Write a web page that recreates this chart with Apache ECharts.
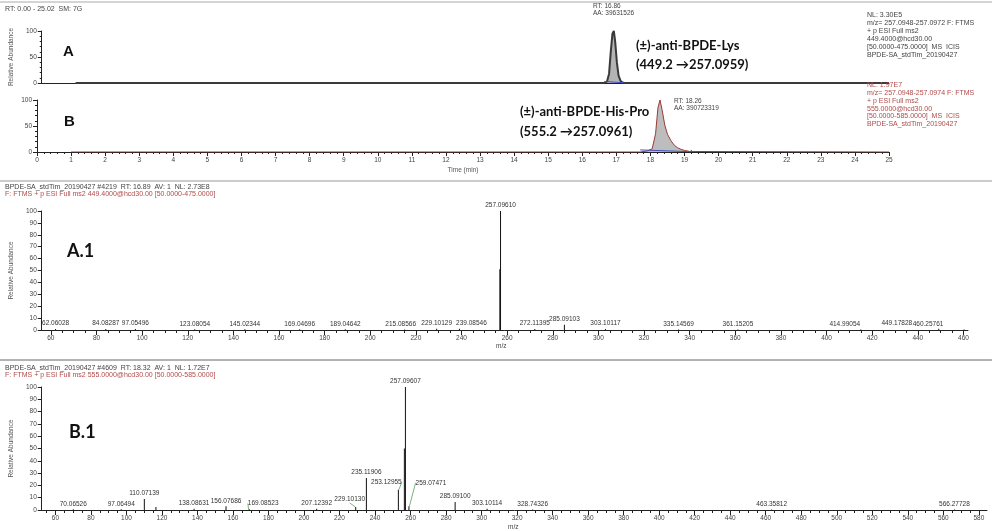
<!DOCTYPE html>
<html>
<head>
<meta charset="utf-8">
<script src="https://cdn.jsdelivr.net/npm/echarts@6/dist/echarts.min.js"></script>
<style>html,body{margin:0;padding:0;background:#fff}#main{width:992px;height:531px}</style>
</head>
<body>
<div id="main"></div>
<script>
// chromatogram A : (±)-anti-BPDE-Lys
var timeA = [1, 16.6, 16.68, 16.74, 16.79, 16.84, 16.88, 16.92, 16.97, 17.02, 17.08, 17.15, 25];
var abundA = [0, 0, 3, 18, 60, 95, 100, 80, 40, 14, 4, 0, 0];
// chromatogram B : (±)-anti-BPDE-His-Pro
var timeB = [1, 17.7, 17.9, 18.05, 18.15, 18.22, 18.28, 18.34, 18.42, 18.5, 18.6, 18.7, 18.8, 18.9, 19.0, 19.15, 25];
var abundB = [0, 0, 2, 6, 35, 85, 100, 82, 52, 34, 22, 13, 8, 5, 3, 1, 0];

// MS2 spectrum A.1 (449.4)
var mzA1 = [62.06028, 84.08287, 97.05496, 123.08054, 145.02344, 169.04696, 189.04642, 215.08566, 229.10129, 239.08546, 257.09610, 272.11395, 285.09103, 303.10117, 335.14569, 361.15205, 414.99054, 449.17828, 460.25761];
var intA1 = [0.8, 0.8, 0.8, 0.6, 0.6, 0.6, 0.6, 0.5, 1.0, 1.0, 100, 0.8, 4.5, 0.8, 0.5, 0.5, 0.5, 1.0, 0.5];
var profA1 = [[256.8, 51]];

// MS2 spectrum B.1 (555.0)
var mzB1 = [70.06526, 97.06494, 110.07139, 138.08631, 156.07686, 169.08523, 207.12392, 229.10130, 235.11906, 253.12955, 257.09607, 259.07471, 285.09100, 303.10114, 328.74326, 463.35812, 566.27728];
var intB1 = [0.6, 0.6, 9, 1.0, 3, 0.8, 1.0, 2.5, 26, 16.5, 100, 3, 6.5, 1.0, 0.5, 0.4, 0.4];
var extraB1 = [[256.5, 50], [116.6, 2.5]];

var timeTicks = [0, 25];
var mzTicksA1 = [60, 460];
var mzTicksB1 = [60, 580];

function range(a, b, step) {
  var out = [];
  for (var v = a; v <= b + 1e-9; v += step) out.push(v);
  return out;
}
function pairs(xs, ys) {
  return xs.map(function (x, i) { return [x, ys[i]]; });
}

var small = 7;
var fontF = 'Arial, "Liberation Sans", sans-serif';
var grey = '#444';
var red = '#b04a4a';

function txt(x, y, s, color, size) {
  return { type: 'text', left: x, top: y - (size || small) / 2 - 1, z: 10,
    style: { text: s, fill: color || grey, font: (size || small) + 'px ' + fontF } };
}
function bold(x, y, s, size, fam) {
  return { type: 'text', left: x, top: y - size / 2 - 1, z: 10,
    style: { text: s, fill: '#111', font: 'bold ' + size + 'px ' + (fam || fontF) } };
}
function hline(y, color) {
  return { type: 'line', shape: { x1: 0, y1: y, x2: 992, y2: y }, style: { stroke: color, lineWidth: 1 } };
}

var chromY = function (gi, showName) {
  return {
    type: 'value', gridIndex: gi, min: 0, max: 100, interval: 50,
    name: showName ? 'Relative Abundance' : '', nameLocation: 'middle', nameGap: 22,
    nameTextStyle: { fontSize: 6.5, color: '#555', fontFamily: fontF },
    axisLine: { show: true, lineStyle: { color: '#222', width: 1 } },
    axisTick: { show: true, length: 4, lineStyle: { color: '#222' } },
    minorTick: { show: true, splitNumber: 5, length: 2, lineStyle: { color: '#222' } },
    axisLabel: { fontSize: 6.5, color: grey, margin: 5, fontFamily: fontF },
    splitLine: { show: false }
  };
};
var specY = function (gi) {
  return {
    type: 'value', gridIndex: gi, min: 0, max: 100, interval: 10,
    name: 'Relative Abundance', nameLocation: 'middle', nameGap: 24,
    nameTextStyle: { fontSize: 6.5, color: '#555', fontFamily: fontF },
    axisLine: { show: true, lineStyle: { color: '#222' } },
    axisTick: { show: true, length: 4, lineStyle: { color: '#222' } },
    axisLabel: { fontSize: 6.5, color: grey, margin: 5, fontFamily: fontF },
    splitLine: { show: false }
  };
};
var specX = function (gi, mn, mx, ticks, major) {
  return {
    type: 'value', gridIndex: gi, min: mn, max: mx, position: 'bottom',
    axisLine: { show: major, lineStyle: { color: '#222' } },
    axisTick: { show: true, length: major ? 5 : 3, lineStyle: { color: '#222' },
      customValues: major ? range(ticks[0], ticks[1], 20)
        : range(ticks[0] - 5, ticks[1] + 5, 5).filter(function (v) { return v > mn && v < mx; }) },
    axisLabel: { show: major, fontSize: 6.5, color: grey, margin: 5, fontFamily: fontF,
      customValues: range(ticks[0], ticks[1], 20) },
    splitLine: { show: false }
  };
};

var stickLabel = {
  show: true, position: 'top', distance: 2, fontSize: 6.5, color: '#333', fontFamily: fontF,
  formatter: function (p) { return p.value[0].toFixed(5); }
};
function sticks(xi, yi, mz, ints, moves, guides) {
  return {
    type: 'bar', xAxisIndex: xi, yAxisIndex: yi, barWidth: 1, barGap: '-100%',
    itemStyle: { color: '#111' }, label: stickLabel, silent: true,
    labelLine: { show: false, lineStyle: { color: '#5aa05a', width: 0.8 } },
    labelLayout: function (p) {
      var m = moves && moves[p.dataIndex];
      return m ? { dx: m[0], dy: m[1] } : {};
    },
    data: mz.map(function (m, i) {
      var d = { value: [m, ints[i]] };
      if (guides && moves[i]) d.labelLine = { show: true };
      return d;
    })
  };
}
function plainSticks(xi, yi, pts) {
  return {
    type: 'bar', xAxisIndex: xi, yAxisIndex: yi, barWidth: 1, barGap: '-100%',
    itemStyle: { color: '#111' }, silent: true, data: pts
  };
}

// labels pushed aside in the instrument printout
var movesA1 = {};
movesA1[7] = [-4, 0];
movesA1[9] = [12, 0];
movesA1[16] = [-16, 0];
movesA1[17] = [-42, 0];
movesA1[18] = [-36, 0];
var movesB1 = {};
movesB1[9] = [-12, -2];
movesB1[11] = [22, -18];
movesB1[7] = [-6, -2];
movesB1[5] = [14, 0];

var chart = echarts.init(document.getElementById('main'), null, { renderer: 'canvas' });
var option = {
  backgroundColor: '#fff',
  animation: false,
  textStyle: { fontFamily: fontF },
  grid: [
    { left: 37, width: 852, top: 31, height: 52 },
    { left: 37, width: 852, top: 100, height: 52 },
    { left: 38, width: 930, top: 211, height: 119 },
    { left: 38, width: 949, top: 387, height: 123 }
  ],
  xAxis: [
    { type: 'value', gridIndex: 0, min: timeTicks[0], max: timeTicks[1], interval: 1,
      axisLine: { lineStyle: { color: '#222' } }, axisTick: { show: false }, axisLabel: { show: false }, splitLine: { show: false } },
    { type: 'value', gridIndex: 1, min: timeTicks[0], max: timeTicks[1], interval: 1,
      name: 'Time (min)', nameLocation: 'middle', nameGap: 15,
      nameTextStyle: { fontSize: 6.5, color: '#555', fontFamily: fontF },
      axisLine: { lineStyle: { color: '#222' } },
      axisTick: { length: 4, lineStyle: { color: '#222' } },
      minorTick: { show: true, splitNumber: 5, length: 2, lineStyle: { color: '#222' } },
      axisLabel: { fontSize: 6.5, color: grey, margin: 5, fontFamily: fontF }, splitLine: { show: false } },
    specX(2, 56, 462, mzTicksA1, true),
    specX(2, 56, 462, mzTicksA1, false),
    specX(3, 52.3, 584.6, mzTicksB1, true),
    specX(3, 52.3, 584.6, mzTicksB1, false)
  ],
  yAxis: [chromY(0, true), chromY(1, false), specY(2), specY(3)],
  series: [
    { type: 'line', xAxisIndex: 0, yAxisIndex: 0, showSymbol: false, silent: true,
      lineStyle: { color: '#3a3a3a', width: 2 }, areaStyle: { color: '#b4b4b4', opacity: 1 },
      data: pairs(timeA, abundA) },
    { type: 'line', xAxisIndex: 0, yAxisIndex: 0, showSymbol: false, silent: true,
      lineStyle: { color: '#4050c0', width: 1 },
      data: [[16.6, 3], [16.6, 0.5], [17.15, 0.5], [17.15, 3]] },
    { type: 'line', xAxisIndex: 1, yAxisIndex: 1, showSymbol: false, silent: true,
      lineStyle: { color: '#9a3a3a', width: 1 }, areaStyle: { color: '#bdbdbd', opacity: 1 },
      data: pairs(timeB, abundB) },
    { type: 'line', xAxisIndex: 1, yAxisIndex: 1, showSymbol: false, silent: true,
      lineStyle: { color: '#4050c0', width: 1 },
      data: [[17.7, 4], [17.7, 0.5], [19.2, 0.5], [19.2, 4]] },
    sticks(2, 2, mzA1, intA1, movesA1, false),
    plainSticks(2, 2, profA1),
    sticks(4, 3, mzB1, intB1, movesB1, true),
    plainSticks(4, 3, extraB1)
  ],
  graphic: [
    hline(2, '#aaa'), hline(181, '#999'), hline(360, '#666'),
    txt(5, 10, 'RT: 0.00 - 25.02  SM: 7G'),
    txt(593, 7, 'RT: 16.86', grey, 6.5),
    txt(593, 14, 'AA: 39631526', grey, 6.5),
    txt(674, 102, 'RT: 18.26', grey, 6.5),
    txt(674, 109, 'AA: 390723319', grey, 6.5),
    txt(867, 16, 'NL: 3.30E5'),
    txt(867, 24, 'm/z= 257.0948-257.0972 F: FTMS'),
    txt(867, 32, '+ p ESI Full ms2'),
    txt(867, 40, '449.4000@hcd30.00'),
    txt(867, 48, '[50.0000-475.0000]  MS  ICIS'),
    txt(867, 56, 'BPDE-SA_stdTim_20190427'),
    txt(867, 86, 'NL: 1.97E7', red),
    txt(867, 94, 'm/z= 257.0948-257.0974 F: FTMS', red),
    txt(867, 102, '+ p ESI Full ms2', red),
    txt(867, 110, '555.0000@hcd30.00', red),
    txt(867, 117, '[50.0000-585.0000]  MS  ICIS', red),
    txt(867, 125, 'BPDE-SA_stdTim_20190427', red),
    bold(63, 53, 'A', 15),
    bold(64, 123, 'B', 15),
    bold(636, 47, '(±)-anti-BPDE-Lys', 13, 'Lato, sans-serif'),
    bold(636, 66, '(449.2 \u2192257.0959)', 13, 'Lato, sans-serif'),
    bold(520, 113, '(±)-anti-BPDE-His-Pro', 13, 'Lato, sans-serif'),
    bold(520, 133, '(555.2 \u2192257.0961)', 13, 'Lato, sans-serif'),
    txt(5, 188, 'BPDE-SA_stdTim_20190427 #4219  RT: 16.89  AV: 1  NL: 2.73E8'),
    txt(5, 195, 'F: FTMS + p ESI Full ms2 449.4000@hcd30.00 [50.0000-475.0000]', red),
    bold(67, 252, 'A.1', 18, 'Lato, sans-serif'),
    txt(496, 347, 'm/z', grey, 6.5),
    txt(5, 369, 'BPDE-SA_stdTim_20190427 #4609  RT: 18.32  AV: 1  NL: 1.72E7'),
    txt(5, 376, 'F: FTMS + p ESI Full ms2 555.0000@hcd30.00 [50.0000-585.0000]', red),
    bold(69, 433, 'B.1', 18, 'Lato, sans-serif'),
    txt(508, 528, 'm/z', grey, 6.5)
  ]
};
chart.setOption(option);
</script>
</body>
</html>
